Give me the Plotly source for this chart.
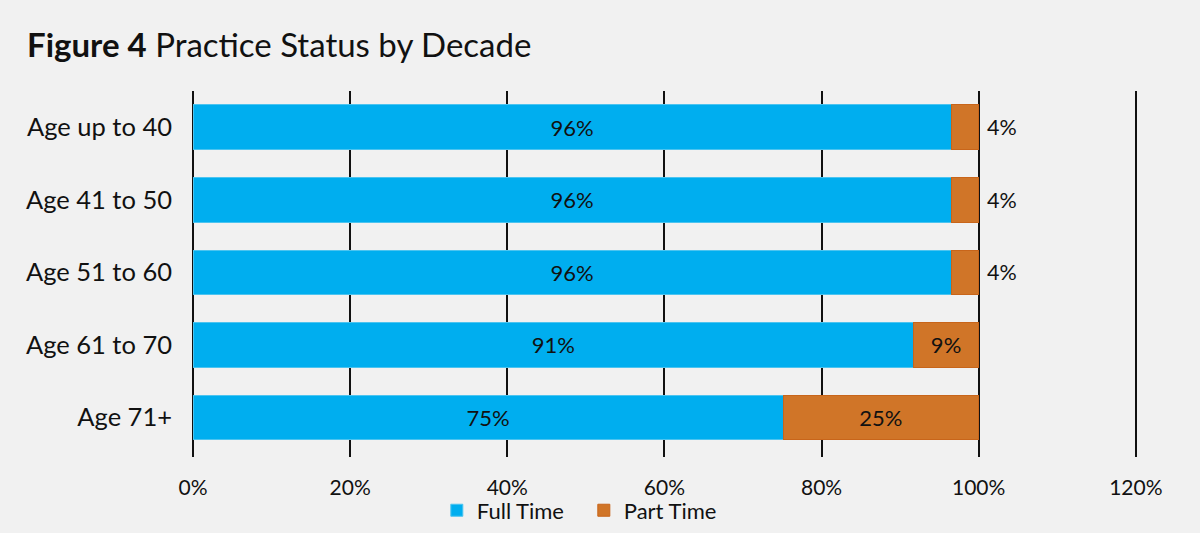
import plotly.graph_objects as go

categories = ["Age up to 40", "Age 41 to 50", "Age 51 to 60", "Age 61 to 70", "Age 71+"]
full_time = [0.965, 0.965, 0.965, 0.917, 0.751]
part_time = [0.035, 0.035, 0.035, 0.083, 0.249]
full_labels = ["96%", "96%", "96%", "91%", "75%"]
part_labels = ["4%", "4%", "4%", "9%", "25%"]
part_outside = [True, True, True, False, False]
x_ticks = [0, 0.2, 0.4, 0.6, 0.8, 1.0, 1.2]

FONT = "Lato"
BG = "#f1f1f1"
INK = "#111111"

fig = go.Figure()
fig.add_trace(go.Bar(
    y=categories, x=full_time, name="Full Time", orientation="h",
    marker=dict(color="#00aeef", line=dict(color="#4cc4f0", width=1)),
    text=full_labels, texttemplate="%{text}", textposition="inside",
    insidetextanchor="middle",
    textfont=dict(family=FONT, size=22, color=INK), textangle=0,
    width=0.62, hoverinfo="skip",
))
fig.add_trace(go.Bar(
    y=categories, x=part_time, name="Part Time", orientation="h",
    marker=dict(color="#d07528", line=dict(color="#c8651a", width=1)),
    text=["" if o else t for t, o in zip(part_labels, part_outside)],
    texttemplate="%{text}", textposition="inside", insidetextanchor="middle",
    textfont=dict(family=FONT, size=22, color=INK), textangle=0,
    width=0.62, hoverinfo="skip",
))

for cat, f, p, lab, o in zip(categories, full_time, part_time, part_labels, part_outside):
    if o:
        fig.add_annotation(
            x=f + p, y=cat, xref="x", yref="y", text=lab, showarrow=False,
            xanchor="left", yanchor="middle", xshift=6,
            font=dict(family=FONT, size=21.5, color=INK),
        )

fig.update_layout(
    barmode="stack",
    width=1200, height=533,
    paper_bgcolor=BG, plot_bgcolor=BG,
    margin=dict(l=193, r=63, t=91, b=76, autoexpand=False),
    font=dict(family=FONT, size=21, color=INK),
    title=dict(
        text="<b>Figure 4</b> Practice Status by Decade",
        x=27/1200, xref="container", xanchor="left",
        y=1-45/533, yref="container", yanchor="middle",
        font=dict(family=FONT, size=33, color=INK),
    ),
    legend=dict(
        orientation="h", x=0.414, xanchor="center", y=-0.146, yanchor="middle",
        font=dict(family=FONT, size=22, color=INK), bgcolor="rgba(0,0,0,0)",
        traceorder="normal", entrywidth=102,
    ),
    showlegend=True,
    xaxis=dict(
        range=[0, 1.2015], tickvals=x_ticks, tickformat=".0%",
        showgrid=True, gridcolor=INK, gridwidth=2,
        zeroline=True, zerolinecolor=INK, zerolinewidth=2,
        showline=False, ticks="", ticklabelstandoff=16, automargin=False,
        tickfont=dict(family=FONT, size=21, color=INK),
    ),
    yaxis=dict(
        categoryorder="array", categoryarray=categories,
        range=[4.545, -0.503], showgrid=False, zeroline=False,
        ticks="", ticklabelstandoff=20, automargin=False,
        tickfont=dict(family=FONT, size=25.5, color=INK),
    ),
)

fig.write_html("out.html", config={"displayModeBar": False})

with open("out.html", "r", encoding="utf-8") as f:
    html = f.read()
html = html.replace("<body>", '<body style="margin:0;padding:0;">', 1)
with open("out.html", "w", encoding="utf-8") as f:
    f.write(html)
